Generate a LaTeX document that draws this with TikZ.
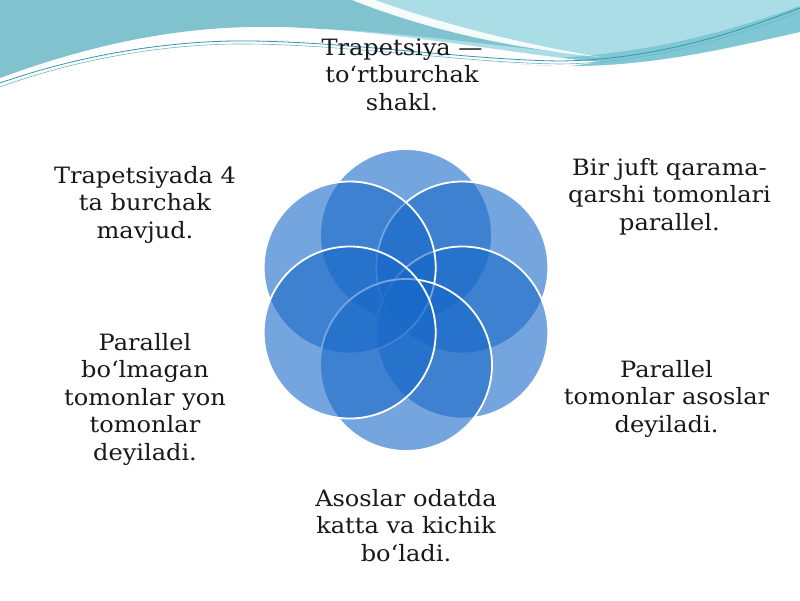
\documentclass[tikz,border=0pt]{standalone}
\usepackage{fontspec}
\newfontfamily\lblfont[FakeStretch=1.07]{DejaVu Serif}
\definecolor{tealA}{RGB}{128,194,206}
\definecolor{tealB}{RGB}{170,221,229}
\definecolor{tealC}{RGB}{110,190,207}
\definecolor{tealLine}{RGB}{55,150,172}
\definecolor{petal}{RGB}{25,105,200}
\definecolor{ink}{RGB}{25,25,25}
\tikzset{
  petalc/.style={fill=petal,fill opacity=0.6,draw=white,draw opacity=1,line width=1.8pt},
  lbl/.style={font=\lblfont\fontsize{22.5}{27.5}\selectfont,text=ink,align=center,anchor=base,inner sep=0pt},
}
\begin{document}
\begin{tikzpicture}[x=1pt,y=-1pt]
\useasboundingbox (0,0) rectangle (800,600);
\fill[white] (0,0) rectangle (800,600);
% header
\fill[tealB] (0,0) -- (800,0) -- (800,32) .. controls (740,45) and (660,66) .. (570,66)
  .. controls (470,66) and (380,40) .. (250,40) .. controls (160,40) and (70,60) .. (0,86) -- cycle;
\fill[tealC,opacity=0.7] (470,58) .. controls (600,64) and (700,42) .. (800,6) -- (800,32)
  .. controls (740,45) and (660,66) .. (570,66) .. controls (530,66) and (500,62) .. (470,58) -- cycle;
\fill[white] (0,76) .. controls (100,30) and (200,20) .. (300,27) .. controls (420,35) and (520,55) .. (600,62)
  -- (570,66) .. controls (470,66) and (380,40) .. (250,40) .. controls (160,40) and (70,60) .. (0,86) -- cycle;
\fill[tealA] (0,0) -- (356,0) .. controls (410,20) and (480,38) .. (560,52)
  .. controls (480,44) and (400,32) .. (320,29) .. controls (230,22) and (130,30) .. (0,78) -- cycle;
\fill[white,opacity=0.9] (352,0) -- (375,0) .. controls (430,20) and (510,42) .. (600,57)
  .. controls (500,47) and (420,27) .. (352,0) -- cycle;
\draw[tealLine,line width=0.8pt] (0,83) .. controls (80,55) and (170,40) .. (250,41)
  .. controls (350,42) and (470,60) .. (560,61) .. controls (650,60) and (730,35) .. (800,8);
\draw[tealLine!70,line width=0.6pt] (0,87) .. controls (80,58) and (170,43) .. (250,44)
  .. controls (350,45) and (470,63) .. (560,64) .. controls (650,63) and (730,38) .. (800,12);
% petals
\coordinate (c) at (406,300);
\foreach \ang/\nm in {-90/ptop,-30/pur,30/plr,-150/pul,90/pbot,150/pll}{
  \path[petalc] (c) ++(\ang:65) coordinate (\nm) circle[radius=86];
}
% labels (anchor = baseline of last line)
\node[lbl] (t1) at (402,110) {Trapetsiya —\\to‘rtburchak\\shakl.};
\node[lbl] (t2) at (669.5,230) {Bir juft qarama-\\qarshi tomonlari\\parallel.};
\node[lbl] (t3) at (666.5,432) {Parallel\\tomonlar asoslar\\deyiladi.};
\node[lbl] (t4) at (406,561) {Asoslar odatda\\katta va kichik\\bo‘ladi.};
\node[lbl] (t5) at (145,460) {Parallel\\bo‘lmagan\\tomonlar yon\\tomonlar\\deyiladi.};
\node[lbl] (t6) at (145,238) {Trapetsiyada 4\\ta burchak\\mavjud.};
\end{tikzpicture}
\end{document}
